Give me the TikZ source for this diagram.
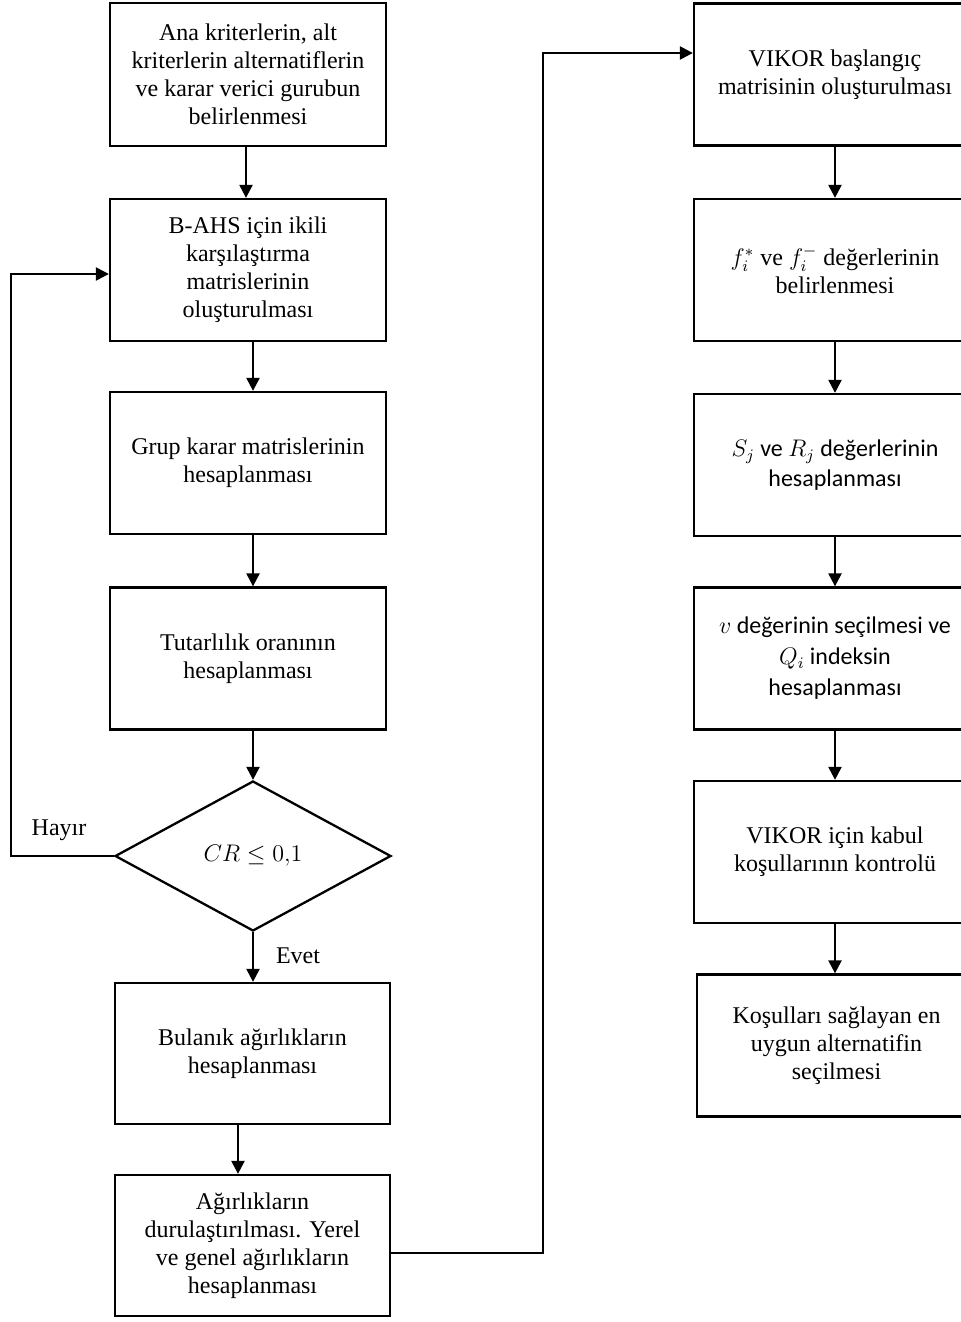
\documentclass[tikz,border=0pt]{standalone}
\usepackage{fontspec}
\setmainfont{Liberation Serif}
\newfontfamily\carl{Carlito}
\usetikzlibrary{arrows.meta,shapes.geometric}
\begin{document}
\begin{tikzpicture}[x=0.5pt,y=-0.5pt,
  box/.style={draw,line width=1.15pt,minimum width=138pt,minimum height=71pt,align=center,inner sep=2pt,font=\fontsize{12}{14}\selectfont},
  dec/.style={draw,line width=1.15pt,diamond,aspect=1.84,minimum width=138pt,minimum height=75pt,inner sep=0pt,font=\fontsize{12}{14}\selectfont},
  arr/.style={line width=1.15pt,-{Triangle[length=6.5pt,width=6.5pt]}},
  lbl/.style={font=\fontsize{12}{14}\selectfont}]
\useasboundingbox (0,0) rectangle (961,1322);
% left column
\node[box,minimum width=138pt,minimum height=71.5pt] (b1) at (248,74.5) {Ana kriterlerin, alt\\kriterlerin alternatiflerin\\ve karar verici gurubun\\belirlenmesi};
\node[box] (b2) at (248,270) {B-AHS için ikili\\karşılaştırma\\matrislerinin\\oluşturulması};
\node[box] (b3) at (248,463) {Grup karar matrislerinin\\hesaplanması};
\node[box] (b4) at (248,658.5) {Tutarlılık oranının\\hesaplanması};
\node[dec] (d) at (253,856) {$CR \leq 0{,}1$};
\node[box,minimum width=137.5pt,minimum height=70.5pt] (b5) at (252.5,1053.5) {Bulanık ağırlıkların\\hesaplanması};
\node[box,minimum width=137.5pt,minimum height=70.5pt] (b6) at (252.5,1245.5) {Ağırlıkların\\durulaştırılması. Yerel\\ve genel ağırlıkların\\hesaplanması};
% right column
\node[box,minimum width=141pt] (r1) at (835,74.5) {VIKOR başlangıç\\matrisinin oluşturulması};
\node[box,minimum width=141pt] (r2) at (835,270) {$f_i^{*}$ ve $f_i^{-}$ değerlerinin\\belirlenmesi};
\node[box,minimum width=141pt,font=\carl\fontsize{12}{15}\selectfont] (r3) at (835,465) {$S_j$ ve $R_j$ değerlerinin\\hesaplanması};
\node[box,minimum width=141pt,font=\carl\fontsize{12}{15.5}\selectfont] (r4) at (835,658.5) {$v$ değerinin seçilmesi ve\\$Q_i$ indeksin\\hesaplanması};
\node[box,minimum width=141pt] (r5) at (835,852) {VIKOR için kabul\\koşullarının kontrolü};
\node[box,minimum width=139.5pt] (r6) at (836.5,1045.5) {Koşulları sağlayan en\\uygun alternatifin\\seçilmesi};
% labels
\node[lbl] (hayir) at (59,830) {Hayır};
\node[lbl] (evet) at (298,956) {Evet};
% coordinates
\coordinate (h) at (11,274);
\coordinate (c1) at (543,1253);
\coordinate (c2) at (543,53);
% connectors
\draw[arr] (b1.south -| 246,0) -- (b2.north -| 246,0);
\draw[arr] (b2.south -| d.north) -- (b3.north -| d.north);
\draw[arr] (b3.south -| d.north) -- (b4.north -| d.north);
\draw[arr] (b4.south -| d.north) -- (d.north);
\draw[arr] (d.south) -- (b5.north -| d.south);
\draw[arr] (b5.south -| 238,0) -- (b6.north -| 238,0);
\draw[arr] (d.west) -| (h) -- (b2.west |- h);
\draw[arr] (b6.east |- c1) -- (c1) -- (c2) -- (r1.west |- c2);
\draw[arr] (r1) -- (r2);
\draw[arr] (r2) -- (r3);
\draw[arr] (r3) -- (r4);
\draw[arr] (r4) -- (r5);
\draw[arr] (r5.south) -- (r6.north -| r5.south);
\end{tikzpicture}
\end{document}
